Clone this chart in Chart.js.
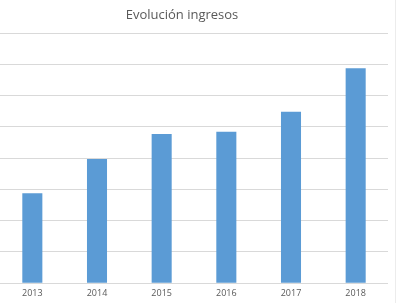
<!DOCTYPE html>
<html>
<head>
<meta charset="utf-8">
<script src="https://cdn.jsdelivr.net/npm/chart.js@4"></script>
<style>
    html, body { margin: 0; padding: 0; background: #fff; }
    #wrap { width: 400px; height: 303px; }
</style>
</head>
<body>
<div id="wrap"><canvas id="chart" width="400" height="303"></canvas></div>
<script>
    const years = ['2013', '2014', '2015', '2016', '2017', '2018'];
    const ingresos = [2.88, 3.97, 4.77, 4.84, 5.48, 6.87];
    const chartTitle = 'Evolución ingresos';

    // title is off-centre in the original, and there's a faint frame line on the right
    const extras = {
        id: 'extras',
        afterDraw(chart) {
            const ctx = chart.ctx;
            ctx.save();
            ctx.fillStyle = '#595959';
            ctx.font = '13px "Open Sans", sans-serif';
            ctx.textAlign = 'center';
            ctx.textBaseline = 'middle';
            ctx.fillText(chartTitle, 182, 15);
            ctx.strokeStyle = '#ececec';
            ctx.lineWidth = 1;
            ctx.beginPath();
            ctx.moveTo(395.5, 0);
            ctx.lineTo(395.5, 303);
            ctx.stroke();
            ctx.restore();
        }
    };

    const ctx = document.getElementById('chart').getContext('2d');
    new Chart(ctx, {
        type: 'bar',
        data: {
            labels: years,
            datasets: [{
                label: 'Ingresos',
                data: ingresos,
                backgroundColor: '#5b9bd5',
                borderWidth: 0,
                categoryPercentage: 1,
                barPercentage: 0.31,
            }]
        },
        options: {
            responsive: false,
            animation: false,
            layout: { padding: { top: 33, left: 0, right: 12, bottom: -1 } },
            plugins: {
                legend: { display: false },
                title: { display: false },
                tooltip: { enabled: false },
            },
            scales: {
                x: {
                    grid: { display: false, drawTicks: false },
                    border: { display: false },
                    ticks: {
                        color: '#595959',
                        font: { size: 9, family: '"Open Sans", sans-serif' },
                        padding: 5,
                        maxRotation: 0,
                    }
                },
                y: {
                    display: true,
                    min: 0,
                    max: 8,
                    grid: { color: '#d9d9d9', lineWidth: 1, drawTicks: false },
                    border: { display: false },
                    ticks: { display: false, stepSize: 1 },
                }
            }
        },
        plugins: [extras]
    });
</script>
</body>
</html>
